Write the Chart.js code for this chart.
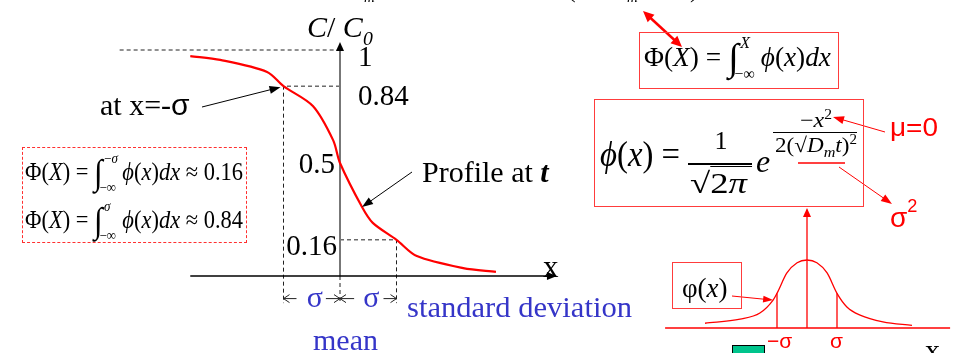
<!DOCTYPE html>
<html>
<head>
<meta charset="utf-8">
<script src="https://cdn.jsdelivr.net/npm/chart.js@4.4.1/dist/chart.umd.min.js"></script>
<style>
  html, body { margin: 0; padding: 0; background: #fff; }
  #wrap { position: relative; width: 957px; height: 353px; overflow: hidden; background: #fff; }
  #plot { position: absolute; left: 0; top: 0; }
  .t { position: absolute; white-space: nowrap; line-height: 1; color: #000;
       font-family: "Liberation Serif", "Times New Roman", serif; }
  .sans { font-family: "Liberation Sans", Arial, sans-serif; }
  .red { color: #ff0000; }
  .blue { color: #3535c8; }
  sub, sup { line-height: 0; }
  .box { position: absolute; box-sizing: border-box; }
  .int { font-size: 1.42em; line-height: 0; position: relative; top: 0.1em; }
  .lim { display: inline-block; position: relative; height: 0; font-size: 0.58em; vertical-align: baseline; }
  .lim .up { position: absolute; left: 0.1em; bottom: 1.0em; }
  .lim .lo { position: absolute; left: -0.25em; top: 0.0em; }
  .ov { border-top: 1.5px solid #000; }
</style>
</head>
<body>
<div id="wrap">
  <canvas id="plot" width="957" height="353"></canvas>
</div>
<script>
// ---- concentration profile C/C0 against x (x in units of sigma) ----
const profileX = [-2.65, -2.12, -1.29, -1, -0.48, -0.12, 0, 0.39, 0.58, 1, 1.36, 2.18, 2.76];
const profileC = [0.973, 0.956, 0.903, 0.84, 0.752, 0.60, 0.5, 0.305, 0.235, 0.16, 0.088, 0.035, 0.018];

// levels marked on the C/C0 axis and their labels
const tickLevels = [1, 0.84, 0.5, 0.16];
const tickLabels = ['1', '0.84', '0.5', '0.16'];

// -sigma, mean, +sigma
const sigmaX = [-1, 0, 1];

// ---- gaussian density phi(x), relative height (peak = 1) ----
const bellU = [-3.4, -2.23, -1.57, -1.13, -1, -0.67, -0.33, 0, 0.33, 0.67, 1, 1.33, 1.77, 2.53, 3.5];
const bellV = [0.07, 0.13, 0.22, 0.41, 0.51, 0.81, 0.96, 1, 0.96, 0.81, 0.51, 0.31, 0.19, 0.09, 0.04];

const pts = (xs, ys) => xs.map((v, i) => ({ x: v, y: ys[i] }));
const seg = (x0, y0, x1, y1) => [{ x: x0, y: y0 }, { x: x1, y: y1 }];

const sigL = bellV[bellU.indexOf(-1)];
const sigR = bellV[bellU.indexOf(1)];

const dashStyle = { borderColor: '#222', borderWidth: 1, borderDash: [4, 3], pointRadius: 0, tension: 0, order: 5 };
const bellStyle = { borderColor: '#ff0000', borderWidth: 1.3, pointRadius: 0, xAxisID: 'x2', yAxisID: 'y2', order: 3 };

const datasets = [
  { data: pts(profileX, profileC), borderColor: '#ff0000', borderWidth: 2.2, tension: 0.3, pointRadius: 0, order: 0 },
  // dashed guides
  { data: seg(-3.9, tickLevels[0], sigmaX[1], tickLevels[0]), ...dashStyle },
  { data: [{ x: sigmaX[1], y: tickLevels[1] }, { x: sigmaX[0], y: tickLevels[1] }, { x: sigmaX[0], y: -0.12 }], ...dashStyle },
  { data: [{ x: sigmaX[1], y: tickLevels[3] }, { x: sigmaX[2], y: tickLevels[3] }, { x: sigmaX[2], y: -0.12 }], ...dashStyle },
  { data: seg(sigmaX[1], 0, sigmaX[1], -0.12), ...dashStyle },
  // axes of the profile plot
  { data: seg(-2.65, 0, 3.8, 0), borderColor: '#000', borderWidth: 1.4, pointRadius: 0, order: 4 },
  { data: seg(0, 0, 0, 1.02), borderColor: '#777', borderWidth: 2, pointRadius: 0, order: 4 },
  // gaussian plot
  { data: pts(bellU, bellV), ...bellStyle, tension: 0.4, cubicInterpolationMode: 'monotone' },
  { data: seg(-4.73, 0, 4.77, 0), ...bellStyle, borderWidth: 1.6 },
  { data: seg(0, 0, 0, 1.74), ...bellStyle },
  { data: seg(-1, 0, -1, sigL), ...bellStyle },
  { data: seg(1, 0, 1, sigR), ...bellStyle }
];

function head(ctx, from, tip, L, Wd, color, open) {
  const a = Math.atan2(tip[1] - from[1], tip[0] - from[0]);
  const bx = tip[0] - L * Math.cos(a), by = tip[1] - L * Math.sin(a);
  const nx = -Math.sin(a) * Wd, ny = Math.cos(a) * Wd;
  ctx.beginPath();
  ctx.moveTo(bx + nx, by + ny);
  ctx.lineTo(tip[0], tip[1]);
  ctx.lineTo(bx - nx, by - ny);
  if (open) { ctx.strokeStyle = color; ctx.lineWidth = 1; ctx.stroke(); }
  else { ctx.closePath(); ctx.fillStyle = color; ctx.fill(); }
}
function arrow(ctx, from, tip, color, lw, L, Wd, both) {
  const a = Math.atan2(tip[1] - from[1], tip[0] - from[0]);
  const s = both ? [from[0] + L * 0.7 * Math.cos(a), from[1] + L * 0.7 * Math.sin(a)] : from;
  ctx.beginPath();
  ctx.moveTo(s[0], s[1]);
  ctx.lineTo(tip[0] - L * 0.7 * Math.cos(a), tip[1] - L * 0.7 * Math.sin(a));
  ctx.strokeStyle = color; ctx.lineWidth = lw; ctx.stroke();
  head(ctx, from, tip, L, Wd, color, false);
  if (both) head(ctx, tip, from, L, Wd, color, false);
}

const annotate = {
  id: 'annotate',
  afterDatasetsDraw(chart) {
    const { ctx } = chart;
    const { x, y, x2, y2 } = chart.scales;
    const P = (a, b) => [x.getPixelForValue(a), y.getPixelForValue(b)];
    const Q = (a, b) => [x2.getPixelForValue(a), y2.getPixelForValue(b)];
    ctx.save();
    ctx.lineCap = 'butt';
    // axis arrowheads
    head(ctx, P(0, 0), P(0, 1.035), 9, 4, '#000', false);
    head(ctx, P(0, 0), P(3.84, 0), 10, 4, '#000', false);
    head(ctx, Q(0, 0), Q(0, 1.765), 9, 4, '#ff0000', false);

    // sigma spans under the axis
    const yd = -0.1;
    const spans = [[-1, -0.77], [0, -0.25], [0, 0.25], [1, 0.77]];
    spans.forEach(([tipX, endX]) => {
      const tip = P(tipX, yd), end = P(endX, yd);
      ctx.beginPath(); ctx.moveTo(end[0], end[1]); ctx.lineTo(tip[0], tip[1]);
      ctx.strokeStyle = '#222'; ctx.lineWidth = 1; ctx.stroke();
      head(ctx, end, tip, 6, 4, '#222', true);
    });

    // pointers
    arrow(ctx, [202, 107], P(sigmaX[0], tickLevels[1]).map((v, i) => v + (i ? 1 : -3)), '#000', 1, 11, 4);
    arrow(ctx, [412, 172], P(profileX[7], profileC[7]), '#000', 1, 11, 4);
    arrow(ctx, [732, 296], Q(bellU[3], bellV[3]), '#ff0000', 1, 10, 3.5);
    arrow(ctx, [885, 132], [833, 117], '#ff0000', 1, 11, 4);
    arrow(ctx, [839, 167], [892, 204], '#ff0000', 1, 11, 4);
    arrow(ctx, [643, 11], [682, 47], '#ff0000', 2.5, 11, 5, true);

    // highlight under sqrt(Dm t)
    ctx.beginPath(); ctx.moveTo(798, 163); ctx.lineTo(845, 163);
    ctx.strokeStyle = '#ff0000'; ctx.lineWidth = 1.5; ctx.stroke();
    ctx.restore();
  }
};

const chart = new Chart(document.getElementById('plot'), {
  type: 'line',
  data: { datasets },
  options: {
    responsive: false,
    animation: false,
    devicePixelRatio: 1,
    layout: { padding: 0 },
    plugins: { legend: { display: false }, tooltip: { enabled: false } },
    scales: {
      x:  { type: 'linear', display: false, min: -340 / 56.5, max: 617 / 56.5 },
      y:  { type: 'linear', display: false, min: -77 / 226, max: 276 / 226 },
      x2: { type: 'linear', display: false, min: -807 / 30, max: 150 / 30 },
      y2: { type: 'linear', display: false, min: -25 / 68, max: 328 / 68 }
    }
  },
  plugins: [annotate]
});

// ---- text layer ----
const wrap = document.getElementById('wrap');
function put(html, xpos, base, F, opts = {}) {
  const d = document.createElement('div');
  d.className = 't' + (opts.sans ? ' sans' : '') + (opts.cls ? ' ' + opts.cls : '');
  d.style.fontSize = F + 'px';
  d.style.top = (base - (opts.sans ? 0.8465 : 0.8375) * F) + 'px';
  if (opts.align === 'r') d.style.right = (957 - xpos) + 'px';
  else d.style.left = xpos + 'px';
  d.innerHTML = html;
  wrap.appendChild(d);
  let t = '';
  if (opts.align === 'c') t += 'translateX(-50%) ';
  if (opts.fit) {
    const w = d.getBoundingClientRect().width;
    if (w > 0) { t += `scaleX(${opts.fit / w})`; d.style.transformOrigin = opts.align === 'c' ? '50% 0' : '0 0'; }
  }
  if (t) d.style.transform = t;
  return d;
}
function box(l, t, w, h, css) {
  const d = document.createElement('div');
  d.className = 'box';
  Object.assign(d.style, { left: l + 'px', top: t + 'px', width: w + 'px', height: h + 'px' }, css);
  wrap.appendChild(d);
}
const integral = (up, lo, w) =>
  `<span class="int">∫</span><span class="lim" style="width:${w}em"><span class="up">${up}</span><span class="lo">${lo}</span></span>`;

const xs = chart.scales.x, ys = chart.scales.y;
const X0 = xs.getPixelForValue(0);

// axis title and level labels
put('<i>C</i>/ <i>C</i><span style="font-size:0.66em;position:relative;top:0.4em"><i>0</i></span>', 307, 37, 30);
const labelPlace = [
  { dx: 18, dy: 16, align: 'l' },
  { dx: 18, dy: 19, align: 'l' },
  { dx: -5, dy: 10, align: 'r' },
  { dx: -3, dy: 15, align: 'r' }
];
tickLevels.forEach((v, i) => {
  const p = labelPlace[i];
  put(tickLabels[i], X0 + p.dx, ys.getPixelForValue(v) + p.dy, 29, { align: p.align });
});

put('at x=-<span class="sans">σ</span>', 100, 115, 30);
put('Profile at <b><i>t</i></b>', 422, 182, 30);
put('x', 543, 277, 31);
put('σ', (xs.getPixelForValue(-0.5)) + 3, 307, 30, { align: 'c', cls: 'blue' });
put('σ', (xs.getPixelForValue(0.5)) + 3, 307, 30, { align: 'c', cls: 'blue' });
put('standard deviation', 407, 317, 30, { cls: 'blue', fit: 225 });
put('mean', 313, 350, 30, { cls: 'blue' });

// cumulative values at -sigma and +sigma
box(22, 147, 225, 96, { border: '1px dashed #ff3030' });
put(`Φ(<i>X</i>) = ${integral('−<i>σ</i>', '−∞', 1.5)}<i>ϕ</i>(<i>x</i>)<i>dx</i> ≈ 0.16`, 25, 180, 25, { fit: 218 });
put(`Φ(<i>X</i>) = ${integral('<i>σ</i>', '−∞', 1.5)}<i>ϕ</i>(<i>x</i>)<i>dx</i> ≈ 0.84`, 25, 228, 25, { fit: 218 });

// cumulative distribution definition
box(639, 32, 200, 57, { border: '1.5px solid #ff3c3c' });
put(`Φ(<i>X</i>) = ${integral('<i>X</i>', '−∞', 1.4)}<i>ϕ</i>(<i>x</i>)<i>dx</i>`, 644, 67, 27, { fit: 187 });

// gaussian density definition
box(594, 99, 270, 108, { border: '1.5px solid #ff3c3c' });
put('<i>ϕ</i>(<i>x</i>) =', 600, 166, 36, { fit: 80 });
put('1', 721, 150, 26, { align: 'c' });
box(688, 163, 64, 1.5, { background: '#000' });
put('√<span class="ov" style="padding-right:4px">2<i>π</i></span>', 690, 193, 29, { fit: 62 });
put('<i>e</i>', 756, 172, 32);
put('−<i>x</i><span style="font-size:0.65em;position:relative;top:-0.6em">2</span>', 816, 128, 21, { align: 'c', fit: 32 });
box(773, 132, 84, 1, { background: '#000' });
put('2(√<span class="ov" style="border-top-width:1px"><i>D</i><span style="font-size:0.7em;position:relative;top:0.3em"><i>m</i></span><i>t</i></span>)<span style="font-size:0.65em;position:relative;top:-0.6em">2</span>', 775, 153, 21, { fit: 82 });

put('μ=0', 890, 136, 26, { sans: true, cls: 'red', fit: 48 });
put('σ<span style="font-size:0.65em;position:relative;top:-0.85em">2</span>', 890, 228, 28, { sans: true, cls: 'red' });

// gaussian plot labels
box(672, 262, 70, 47, { border: '1.5px solid #ff3c3c' });
put('φ(<i>x</i>)', 682, 298, 27);
put('−σ', 767, 348, 21, { sans: true, cls: 'red' });
put('σ', 830, 348, 21, { sans: true, cls: 'red' });
put('x', 925, 360, 30);
box(732, 345, 33, 14, { background: '#00c48c', border: '1px solid #000' });

// lines continuing above the top edge
put('<i>m</i>', 364, 3, 15);
put('(', 567, -2, 26);
put('<i>m</i>', 627, 3, 15);
put(')', 690, -2, 26);
</script>
</body>
</html>
